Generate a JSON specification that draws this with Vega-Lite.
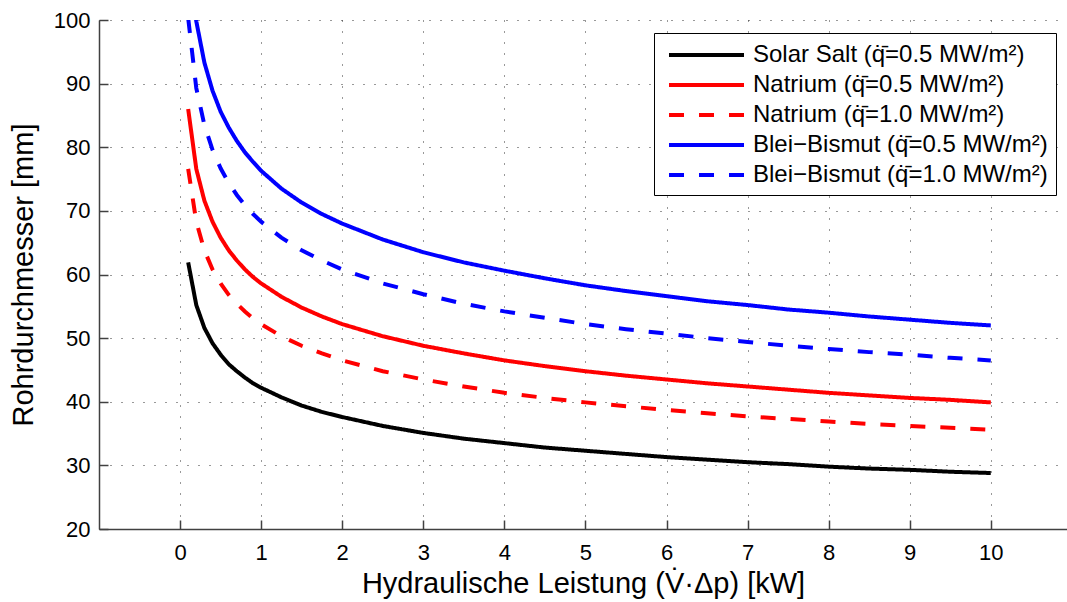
{
  "$schema": "https://vega.github.io/schema/vega-lite/v6.json",
  "width": 968,
  "height": 509,
  "autosize": {"type": "none"},
  "padding": {"left": 99, "top": 20, "right": 0, "bottom": 73},
  "background": "white",
  "config": {
    "font": "Liberation Sans",
    "view": {"stroke": null},
    "axis": {
      "domainColor": "#404040",
      "domainWidth": 1.5,
      "tickColor": "#404040",
      "tickWidth": 1.5,
      "tickSize": -9,
      "grid": true,
      "gridColor": "#333333",
      "gridDash": [1, 10],
      "gridWidth": 1,
      "gridOpacity": 1,
      "labelFont": "Liberation Sans",
      "labelFontSize": 22,
      "labelColor": "#000000",
      "titleFont": "Liberation Sans",
      "titleFontSize": 29,
      "titleFontWeight": "normal",
      "titleColor": "#000000"
    },
    "legend": {
      "labelFont": "Liberation Sans",
      "labelFontSize": 24,
      "labelColor": "#000000",
      "symbolType": "M-3.125,0H3.125",
      "symbolSize": 576,
      "symbolStrokeWidth": 4,
      "symbolOffset": 30.5,
      "strokeColor": "#000000",
      "fillColor": "#ffffff",
      "padding": 8,
      "rowPadding": 4,
      "labelOffset": 32.5,
      "labelLimit": 0
    }
  },
  "data": {
    "values": [
      {"x": 0.1, "ss": 61.9, "na05": 86.0, "na10": 76.6, "bb05": 112.0, "bb10": 100.3},
      {"x": 0.2, "ss": 55.2, "na05": 76.6, "na10": 68.3, "bb05": 99.8, "bb10": 89.3},
      {"x": 0.3, "ss": 51.6, "na05": 71.6, "na10": 63.8, "bb05": 93.3, "bb10": 83.5},
      {"x": 0.4, "ss": 49.2, "na05": 68.3, "na10": 60.8, "bb05": 88.9, "bb10": 79.6},
      {"x": 0.5, "ss": 47.4, "na05": 65.8, "na10": 58.6, "bb05": 85.6, "bb10": 76.7},
      {"x": 0.6, "ss": 45.9, "na05": 63.8, "na10": 56.8, "bb05": 83.1, "bb10": 74.4},
      {"x": 0.7, "ss": 44.8, "na05": 62.2, "na10": 55.4, "bb05": 81.0, "bb10": 72.5},
      {"x": 0.8, "ss": 43.8, "na05": 60.8, "na10": 54.2, "bb05": 79.2, "bb10": 70.9},
      {"x": 0.9, "ss": 42.9, "na05": 59.6, "na10": 53.1, "bb05": 77.7, "bb10": 69.5},
      {"x": 1.0, "ss": 42.2, "na05": 58.6, "na10": 52.2, "bb05": 76.3, "bb10": 68.3},
      {"x": 1.25, "ss": 40.7, "na05": 56.5, "na10": 50.3, "bb05": 73.5, "bb10": 65.8},
      {"x": 1.5, "ss": 39.4, "na05": 54.8, "na10": 48.8, "bb05": 71.3, "bb10": 63.8},
      {"x": 1.75, "ss": 38.4, "na05": 53.4, "na10": 47.6, "bb05": 69.5, "bb10": 62.2},
      {"x": 2.0, "ss": 37.6, "na05": 52.2, "na10": 46.5, "bb05": 68.0, "bb10": 60.8},
      {"x": 2.5, "ss": 36.2, "na05": 50.3, "na10": 44.8, "bb05": 65.5, "bb10": 58.6},
      {"x": 3.0, "ss": 35.1, "na05": 48.8, "na10": 43.5, "bb05": 63.5, "bb10": 56.9},
      {"x": 3.5, "ss": 34.2, "na05": 47.6, "na10": 42.4, "bb05": 61.9, "bb10": 55.4},
      {"x": 4.0, "ss": 33.5, "na05": 46.5, "na10": 41.4, "bb05": 60.6, "bb10": 54.2},
      {"x": 4.5, "ss": 32.8, "na05": 45.6, "na10": 40.6, "bb05": 59.4, "bb10": 53.2},
      {"x": 5.0, "ss": 32.3, "na05": 44.8, "na10": 39.9, "bb05": 58.3, "bb10": 52.2},
      {"x": 5.5, "ss": 31.8, "na05": 44.1, "na10": 39.3, "bb05": 57.4, "bb10": 51.4},
      {"x": 6.0, "ss": 31.3, "na05": 43.5, "na10": 38.7, "bb05": 56.6, "bb10": 50.7},
      {"x": 6.5, "ss": 30.9, "na05": 42.9, "na10": 38.2, "bb05": 55.8, "bb10": 50.0},
      {"x": 7.0, "ss": 30.5, "na05": 42.4, "na10": 37.7, "bb05": 55.2, "bb10": 49.4},
      {"x": 7.5, "ss": 30.2, "na05": 41.9, "na10": 37.3, "bb05": 54.5, "bb10": 48.8},
      {"x": 8.0, "ss": 29.8, "na05": 41.4, "na10": 36.9, "bb05": 54.0, "bb10": 48.3},
      {"x": 8.5, "ss": 29.5, "na05": 41.0, "na10": 36.5, "bb05": 53.4, "bb10": 47.8},
      {"x": 9.0, "ss": 29.3, "na05": 40.6, "na10": 36.2, "bb05": 52.9, "bb10": 47.4},
      {"x": 9.5, "ss": 29.0, "na05": 40.3, "na10": 35.9, "bb05": 52.4, "bb10": 46.9},
      {"x": 10.0, "ss": 28.8, "na05": 39.9, "na10": 35.6, "bb05": 52.0, "bb10": 46.5}
    ]
  },
  "transform": [
    {"fold": ["ss", "na05", "na10", "bb05", "bb10"], "as": ["series", "d"]}
  ],
  "mark": {"type": "line", "clip": true, "strokeWidth": 4},
  "encoding": {
    "x": {
      "field": "x",
      "type": "quantitative",
      "scale": {"domain": [-1, 10.94], "nice": false, "zero": false},
      "axis": {
        "title": "Hydraulische Leistung (V\u0307\u00b7\u0394p) [kW]",
        "values": [0, 1, 2, 3, 4, 5, 6, 7, 8, 9, 10],
        "labelPadding": 22,
        "titleBaseline": "alphabetic",
        "titleY": 63
      }
    },
    "y": {
      "field": "d",
      "type": "quantitative",
      "scale": {"domain": [20, 100], "nice": false, "zero": false},
      "axis": {
        "title": "Rohrdurchmesser [mm]",
        "values": [20, 30, 40, 50, 60, 70, 80, 90, 100],
        "labelPadding": 18,
        "titleBaseline": "alphabetic",
        "titleX": -67
      }
    },
    "color": {
      "field": "series",
      "type": "nominal",
      "scale": {
        "domain": ["ss", "na05", "na10", "bb05", "bb10"],
        "range": ["#000000", "#ff0000", "#ff0000", "#0000ff", "#0000ff"]
      },
      "legend": {
        "title": null,
        "orient": "none",
        "legendX": 555,
        "legendY": 13,
        "labelExpr": "datum.label == 'ss' ? 'Solar Salt (q\u0307\u0304=0.5 MW/m\u00b2)' : datum.label == 'na05' ? 'Natrium (q\u0307\u0304=0.5 MW/m\u00b2)' : datum.label == 'na10' ? 'Natrium (q\u0307\u0304=1.0 MW/m\u00b2)' : datum.label == 'bb05' ? 'Blei\u2212Bismut (q\u0307\u0304=0.5 MW/m\u00b2)' : 'Blei\u2212Bismut (q\u0307\u0304=1.0 MW/m\u00b2)'"
      }
    },
    "strokeDash": {
      "field": "series",
      "type": "nominal",
      "scale": {
        "domain": ["ss", "na05", "na10", "bb05", "bb10"],
        "range": [[1, 0], [1, 0], [15, 15], [1, 0], [15, 15]]
      }
    }
  }
}
